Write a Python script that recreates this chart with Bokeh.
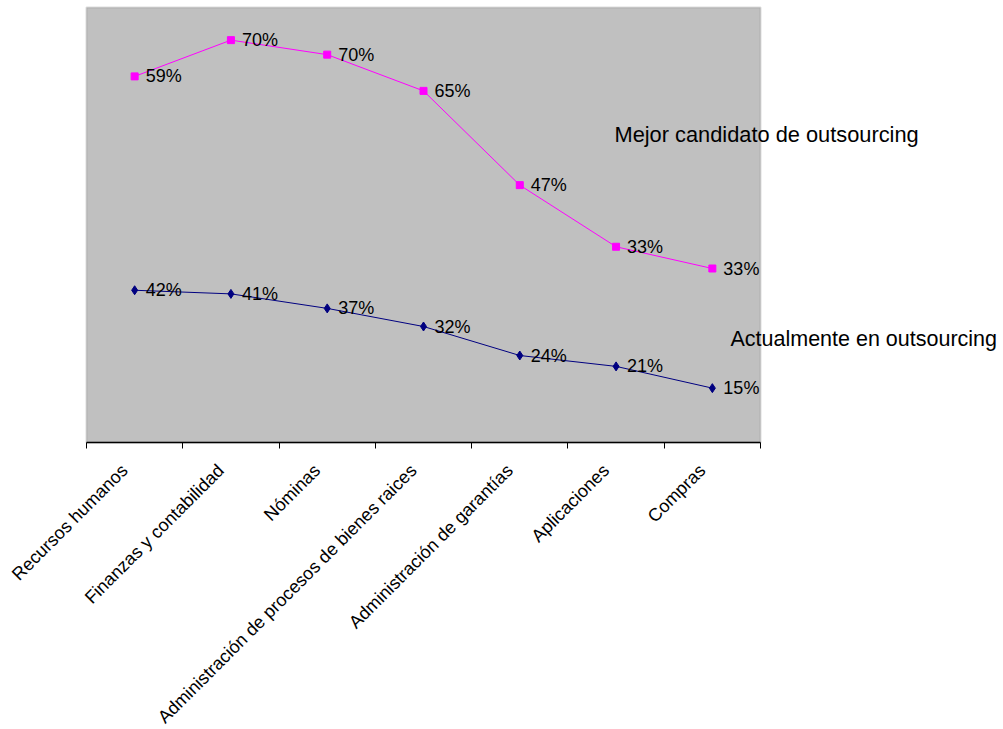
import numpy as np
from bokeh.plotting import figure
from bokeh.models import ColumnDataSource, FixedTicker, Label, Range1d, BoxAnnotation
from bokeh.transform import stack
from bokeh.core.properties import value
from bokeh.embed import file_html
from bokeh.resources import INLINE

categories = ["Recursos humanos", "Finanzas y contabilidad", "Nóminas",
              "Administración de procesos de bienes raices",
              "Administración de garantías", "Aplicaciones", "Compras"]
actual = [42, 41, 37, 32, 24, 21, 15]
mejor = [59, 70, 70, 65, 47, 33, 33]
series_names = ["Actualmente en outsourcing", "Mejor candidato de outsourcing"]
y_max = 120

W, H = 1003, 729
LEFT, PLOT_RIGHT, PLOT_TOP, AXIS_Y = 86, 760, 7, 442

n = len(categories)
xpx = (PLOT_RIGHT - LEFT) / n          # px per category
ypx = (AXIS_Y - PLOT_TOP) / y_max      # px per percent

xpos = np.arange(n) + 0.5
source = ColumnDataSource(dict(
    x=xpos, actual=actual, mejor=mejor,
    lab_a=[f"{v}%" for v in actual], lab_m=[f"{v}%" for v in mejor],
))

FONT = "Liberation Sans"

p = figure(width=W, height=H, output_backend="svg", toolbar_location=None,
           x_range=Range1d(-LEFT / xpx, (W - LEFT) / xpx),
           y_range=Range1d(-(H - AXIS_Y) / ypx, AXIS_Y / ypx),
           y_axis_type=None,
           min_border_left=0, min_border_right=0, min_border_top=0, min_border_bottom=0)
p.background_fill_color = "white"
p.border_fill_color = "white"
p.outline_line_color = None
p.xgrid.visible = False
p.ygrid.visible = False

p.add_layout(BoxAnnotation(left=0, right=n, bottom=0, top=y_max, level="underlay",
                           fill_color="#c0c0c0", fill_alpha=1.0,
                           line_color="#8c8c8c", line_width=2))

p.line(x="x", y=stack("actual"), source=source, color="#000080", line_width=1)
p.line(x="x", y=stack("actual", "mejor"), source=source, color="#ff00ff", line_width=1)
p.scatter(x="x", y=stack("actual"), source=source, marker="diamond",
          size=9, color="#000080")
p.scatter(x="x", y=stack("actual", "mejor"), source=source, marker="square",
          size=7, color="#ff00ff")
p.text(x="x", y=stack("actual"), text="lab_a", source=source, x_offset=11,
       text_baseline="middle", text_font=value(FONT), text_font_size="18px", text_color="black")
p.text(x="x", y=stack("actual", "mejor"), text="lab_m", source=source, x_offset=11,
       text_baseline="middle", text_font=value(FONT), text_font_size="18px", text_color="black")

shift = 10 / xpx
lab_ticks = [float(x - shift) for x in xpos]
ax = p.xaxis[0]
ax.fixed_location = 0
ax.bounds = (0, n)
ax.ticker = FixedTicker(ticks=lab_ticks, minor_ticks=list(range(n + 1)))
ax.major_label_overrides = {t: c for t, c in zip(lab_ticks, categories)}
ax.major_tick_line_color = None
ax.major_tick_out = 0
ax.major_tick_in = 0
ax.minor_tick_line_color = "black"
ax.minor_tick_out = 6
ax.minor_tick_in = 0
ax.axis_line_color = "black"
ax.axis_line_width = 1.5
ax.major_label_orientation = np.pi / 4
ax.major_label_text_font = FONT
ax.major_label_text_font_size = "18px"
ax.major_label_text_color = "black"
ax.major_label_standoff = 19

p.add_layout(Label(x=(614 - LEFT) / xpx, y=(AXIS_Y - 134) / ypx, text=series_names[1],
                   text_baseline="middle", text_font=FONT, text_font_size="21.8px",
                   text_color="black"))
p.add_layout(Label(x=(730 - LEFT) / xpx, y=(AXIS_Y - 338) / ypx, text=series_names[0],
                   text_baseline="middle", text_font=FONT, text_font_size="21.5px",
                   text_color="black"))

open("out.html", "w").write(file_html(p, INLINE))
